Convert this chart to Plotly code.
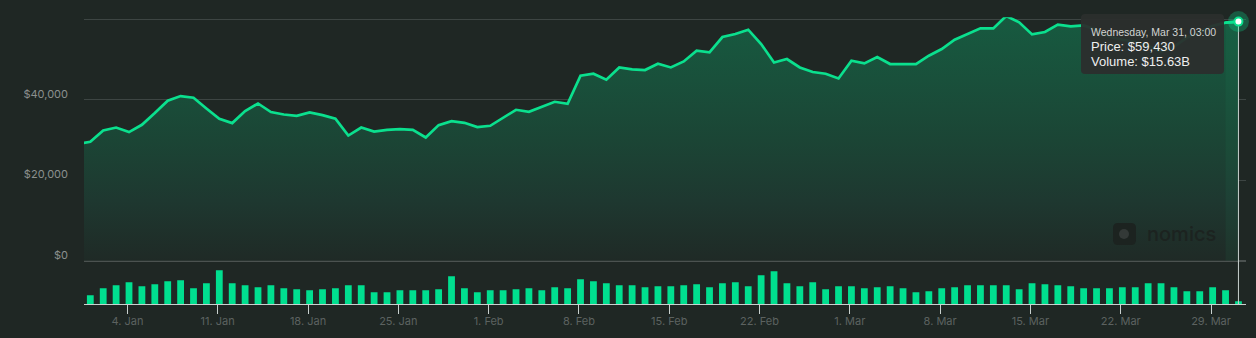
import plotly.graph_objects as go
import pandas as pd

W, H = 1256, 338

# ---------------- data ----------------
dates = pd.date_range("2020-12-31 03:00", "2021-03-31 03:00", freq="D")
price = [
    28950,
    29550, 32360, 33100, 31960, 33780, 36690, 39750, 40920, 40500, 37830,
    35270, 34200, 37190, 39080, 36940, 36340, 36020, 36840, 36190, 35270,
    31110, 33100, 32110, 32530, 32710, 32530, 30620, 33700, 34700, 34270,
    33200,
    33530, 35590, 37510, 37010, 38330, 39500, 39000, 45970, 46470, 44980,
    48040, 47540, 47390, 48960, 48040, 49530, 52190, 51770, 55600, 56350,
    57420, 53860, 49280, 50130, 48040, 46890, 46470, 45300,
    49710, 49030, 50630, 48880, 48880, 48880, 50950, 52620, 54930, 56350,
    57750, 57750, 60830, 59240, 56250, 56850, 58670, 58240, 58490, 57400,
    55680, 54930, 54430, 53440, 51950, 53190, 55430, 56920, 58420, 59160,
    59430,
]
vol_dates = dates[1:]
volume_b = [
    46.8, 83.2, 98.8, 114.4, 93.6, 104.0, 119.6, 124.8, 83.2, 109.2,
    176.8, 109.2, 98.8, 88.4, 98.8, 83.2, 78.0, 72.8, 78.0, 83.2,
    98.8, 98.8, 62.4, 62.4, 72.8, 72.8, 72.8, 78.0, 145.6, 83.2,
    62.4,
    72.8, 72.8, 78.0, 83.2, 72.8, 88.4, 83.2, 130.0, 119.6, 109.2,
    98.8, 98.8, 88.4, 93.6, 93.6, 98.8, 104.0, 88.4, 109.2, 114.4,
    93.6, 150.8, 171.6, 109.2, 93.6, 114.4, 78.0, 93.6,
    93.6, 83.2, 88.4, 93.6, 83.2, 62.4, 67.6, 83.2, 88.4, 98.8,
    98.8, 98.8, 98.8, 78.0, 109.2, 104.0, 98.8, 93.6, 83.2, 83.2,
    83.2, 88.4, 88.4, 109.2, 109.2, 88.4, 67.6, 67.6, 88.4, 72.8,
    15.63,
]
tick_vals = pd.date_range("2021-01-04", "2021-03-29", freq="7D")
tick_text = ["4. Jan", "11. Jan", "18. Jan", "25. Jan", "1. Feb", "8. Feb",
             "15. Feb", "22. Feb", "1. Mar", "8. Mar", "15. Mar", "22. Mar", "29. Mar"]
price_ticks = [0, 20000, 40000, 60000]
price_tick_text = ["$0", "$20,000", "$40,000", ""]

# ---------------- style ----------------
BG = "#1f2724"
LINE = "#0be08e"
BAR = "#00df8f"
GRID = "#3d4543"
ZERO = "#4b5250"
AXIS = "#c9d1cf"
YLAB = "#8b908e"
XLAB = "#5c6260"
FONT = "Inter"


def X(x):
    return x / W


def Y(y):
    return 1 - y / H


def rrect(x0, y0, x1, y1, r):
    return (f"M {X(x0 + r)},{Y(y0)} L {X(x1 - r)},{Y(y0)} Q {X(x1)},{Y(y0)} {X(x1)},{Y(y0 + r)} "
            f"L {X(x1)},{Y(y1 - r)} Q {X(x1)},{Y(y1)} {X(x1 - r)},{Y(y1)} "
            f"L {X(x0 + r)},{Y(y1)} Q {X(x0)},{Y(y1)} {X(x0)},{Y(y1 - r)} "
            f"L {X(x0)},{Y(y0 + r)} Q {X(x0)},{Y(y0)} {X(x0 + r)},{Y(y0)} Z")


x_range = ["2020-12-31 15:16", "2021-03-31 17:03"]
y_range = [-500, 60500]
v_range = [0, 220]
bar_ms = 0.527 * 86400000

last_x, last_p, last_v = dates[-1], price[-1], volume_b[-1]

fig = go.Figure()

# area + line
fig.add_trace(go.Scatter(
    x=dates, y=price, mode="lines",
    line=dict(color=LINE, width=2.7),
    fill="tozeroy",
    fillgradient=dict(type="vertical", start=0, stop=60000,
                      colorscale=[[0, "#1f2a26"], [0.25, "#1e3830"], [0.5, "#1b4535"],
                                  [0.75, "#19503b"], [1, "#175a40"]]),
    xaxis="x", yaxis="y", hoverinfo="skip",
))
# hovered segment highlight
fig.add_trace(go.Scatter(
    x=list(dates[-2:]), y=price[-2:], mode="lines", line=dict(width=0),
    fill="tozeroy", fillcolor="rgba(40,210,140,0.06)",
    xaxis="x", yaxis="y", hoverinfo="skip",
))
fig.add_trace(go.Scatter(
    x=list(dates[-2:]), y=price[-2:], mode="lines", line=dict(color=LINE, width=2.7),
    xaxis="x", yaxis="y", hoverinfo="skip",
))
# volume bars
fig.add_trace(go.Bar(
    x=vol_dates, y=volume_b, width=bar_ms,
    marker=dict(color=BAR, line=dict(width=0)),
    xaxis="x", yaxis="y2", hoverinfo="skip",
))
# crosshair
fig.add_trace(go.Scatter(x=[last_x, last_x], y=[y_range[0], last_p], mode="lines",
                         line=dict(color=AXIS, width=1), xaxis="x", yaxis="y", hoverinfo="skip"))
fig.add_trace(go.Scatter(x=[last_x, last_x], y=[v_range[0], v_range[1]], mode="lines",
                         line=dict(color=AXIS, width=1), xaxis="x", yaxis="y2", hoverinfo="skip"))
# hover marker
fig.add_trace(go.Scatter(x=[last_x], y=[last_p], mode="markers",
                         marker=dict(size=21, color="rgba(11,224,142,0.28)"),
                         cliponaxis=False, xaxis="x", yaxis="y", hoverinfo="skip"))
fig.add_trace(go.Scatter(x=[last_x], y=[last_p], mode="markers",
                         marker=dict(size=8, color="#ffffff", line=dict(color=LINE, width=2)),
                         cliponaxis=False, xaxis="x", yaxis="y", hoverinfo="skip"))

shapes = [
    # watermark logo
    dict(type="path", xref="paper", yref="paper", path=rrect(1113, 223, 1136, 245, 5),
         fillcolor="#1c2320", line=dict(width=0), layer="above"),
    dict(type="circle", xref="paper", yref="paper", x0=X(1119), x1=X(1129), y0=Y(239), y1=Y(229),
         fillcolor="#333937", line=dict(width=0), layer="above"),
    # tooltip box
    dict(type="path", xref="paper", yref="paper", path=rrect(1081, 14, 1224, 74, 4),
         fillcolor="#2b2e2d", opacity=0.95, line=dict(width=0), layer="above"),
]

annotations = [
    dict(text="nomics", xref="paper", yref="paper", x=X(1145), y=Y(234), xanchor="left",
         yanchor="middle", showarrow=False,
         font=dict(family=FONT, size=20, color="#1c2320", weight=500)),
    dict(text=last_x.strftime("%A, %b %d, %H:%M"), xref="paper", yref="paper", x=X(1089), y=Y(32),
         xanchor="left", yanchor="middle", showarrow=False,
         font=dict(family="Liberation Sans", size=10.5, color="#d2d4d3")),
    dict(text=f"Price: ${last_p:,.0f}", xref="paper", yref="paper", x=X(1089), y=Y(46.5),
         xanchor="left", yanchor="middle", showarrow=False,
         font=dict(family="Liberation Sans", size=13, color="#eeeeee")),
    dict(text=f"Volume: ${last_v:.2f}B", xref="paper", yref="paper", x=X(1089), y=Y(61.5),
         xanchor="left", yanchor="middle", showarrow=False,
         font=dict(family="Liberation Sans", size=13, color="#eeeeee")),
]

fig.update_layout(
    width=W, height=H, margin=dict(l=0, r=0, t=0, b=0, pad=0, autoexpand=False),
    paper_bgcolor=BG, plot_bgcolor="rgba(0,0,0,0)", showlegend=False,
    hovermode=False,
    xaxis=dict(domain=[X(84), X(1246)], range=x_range, type="date", anchor="y2",
               automargin=False,
               tickvals=tick_vals, ticktext=tick_text, showgrid=False, zeroline=False,
               showline=True, linecolor=AXIS, linewidth=1,
               ticks="outside", ticklen=9, tickcolor=AXIS, tickwidth=1,
               ticklabelstandoff=-3,
               tickfont=dict(family=FONT, size=11, color=XLAB)),
    yaxis=dict(domain=[Y(262.7), Y(17.3)], range=y_range, anchor="x",
               automargin=False,
               tickvals=price_ticks, ticktext=price_tick_text,
               showgrid=True, gridcolor=GRID, gridwidth=1,
               zeroline=True, zerolinecolor=ZERO, zerolinewidth=2,
               showline=False, ticks="",
               ticklabelshift=-6, ticklabelstandoff=15,
               tickfont=dict(family=FONT, size=11, color=YLAB)),
    yaxis2=dict(domain=[Y(304.3), Y(262)], range=v_range, anchor="x",
                automargin=False,
                showgrid=False, zeroline=False, showticklabels=False, showline=False),
    shapes=shapes, annotations=annotations,
)

fig.write_html("out.html")
